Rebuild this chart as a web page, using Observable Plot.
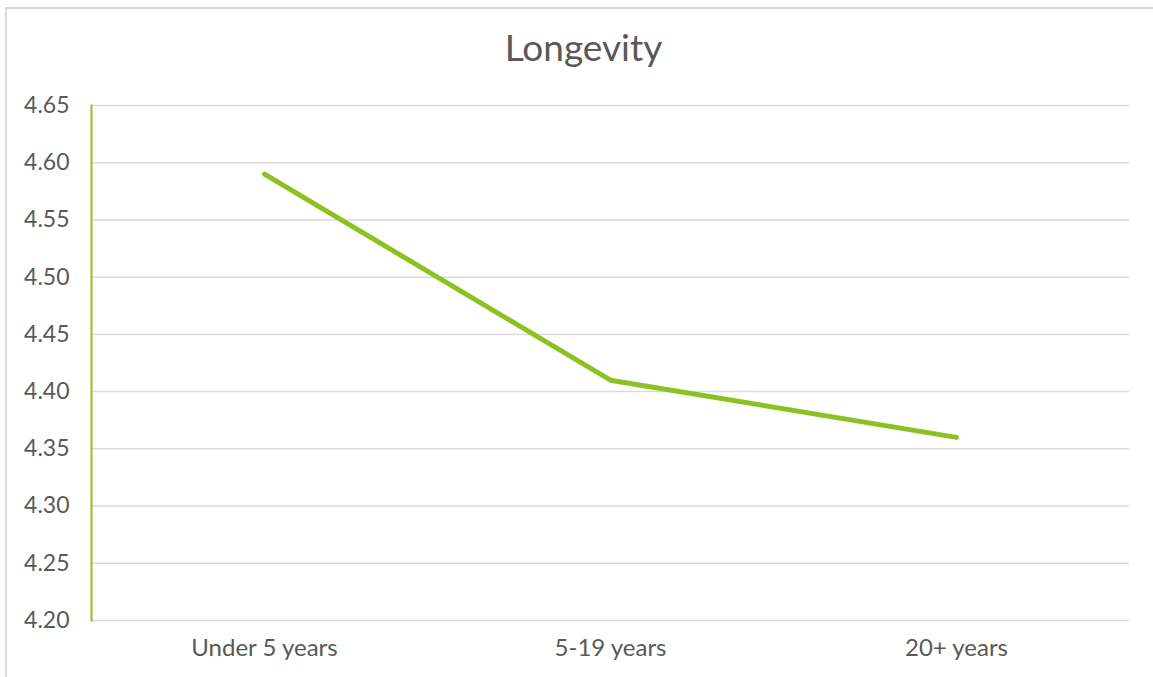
<!DOCTYPE html>
<html>
<head>
<meta charset="utf-8">
<script src="https://cdn.jsdelivr.net/npm/d3@7"></script>
<script src="https://cdn.jsdelivr.net/npm/@observablehq/plot@0.6"></script>
<style>
  html, body { margin: 0; padding: 0; background: #fff; }
  body { width: 1153px; height: 677px; overflow: hidden; position: relative; font-family: Lato, "Open Sans", sans-serif; }
  #box { position: absolute; left: 5px; top: 7px; right: -2px; bottom: -2px; border-left: 2px solid #d9d9d9; border-top: 2px solid #d9d9d9; }
  #wrap { position: absolute; left: 0; top: 0; width: 1153px; }
  #title { height: 85px; box-sizing: border-box; padding-top: 28px; text-align: center; font-size: 37px; color: #595959; line-height: 1; padding-left: 14px; }
  svg { display: block; }
</style>
</head>
<body>
<div id="box"></div>
<div id="wrap">
  <div id="title">Longevity</div>
  <div id="chart"></div>
</div>
<script>
const categories = ["Under 5 years", "5-19 years", "20+ years"];
const values = [4.59, 4.41, 4.36];
const yTicks = [4.20, 4.25, 4.30, 4.35, 4.40, 4.45, 4.50, 4.55, 4.60, 4.65];

const data = categories.map((c, i) => ({category: c, value: values[i]}));

const chart = Plot.plot({
  width: 1153,
  height: 592,
  marginTop: 20,
  marginBottom: 57,
  marginLeft: 91,
  marginRight: 24,
  style: {fontFamily: "Lato, 'Open Sans', sans-serif", fontSize: "20px", color: "#595959", background: "transparent"},
  x: {type: "point", domain: categories, padding: 0.5, label: null},
  y: {domain: [4.20, 4.65], label: null},
  marks: [
    Plot.ruleY(yTicks, {stroke: "#d9d9d9", strokeWidth: 1.5}),
    Plot.frame({anchor: "left", stroke: "#8cc21f", strokeWidth: 2}),
    Plot.axisY(yTicks, {tickSize: 0, tickPadding: 22, tickFormat: d => d.toFixed(2), fontSize: 23, fill: "#595959"}),
    Plot.axisX({tickSize: 0, tickPadding: 18, fontSize: 24, fill: "#595959"}),
    Plot.lineY(data, {x: "category", y: "value", stroke: "#8cc21f", strokeWidth: 5, strokeLinecap: "round", strokeLinejoin: "round"})
  ]
});
document.getElementById("chart").appendChild(chart);
</script>
</body>
</html>
